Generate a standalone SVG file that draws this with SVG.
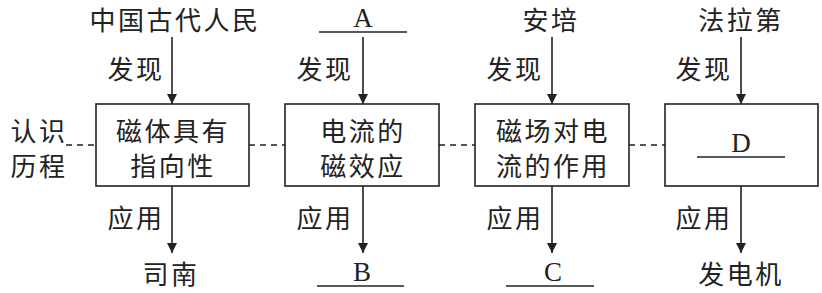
<svg xmlns="http://www.w3.org/2000/svg" width="822" height="293" viewBox="0 0 822 293">
<style>
.t{font-family:"Noto Sans CJK SC","Liberation Sans",sans-serif;font-size:26px;fill:#222;text-anchor:middle;letter-spacing:2.5px}
.l{font-family:"Liberation Serif",serif;font-size:27px;fill:#222;text-anchor:middle}
.box{fill:#fff;stroke:#222;stroke-width:1.6}
.ln{stroke:#222;stroke-width:1.6;fill:none}
.ds{stroke:#222;stroke-width:1.6;fill:none;stroke-dasharray:6,5}
</style>
<defs>
<marker id="ah" viewBox="0 0 10 14" refX="10" refY="7" markerWidth="10" markerHeight="14" markerUnits="userSpaceOnUse" orient="auto">
<path d="M0,2 L10,7 L0,12 Z" fill="#222"/>
</marker>
</defs>
<g id="connectors">
<line class="ds" x1="66" y1="145" x2="96" y2="145"/>
<line class="ds" x1="249" y1="145" x2="285" y2="145"/>
<line class="ds" x1="439" y1="145" x2="475" y2="145"/>
<line class="ds" x1="629" y1="145" x2="665" y2="145"/>
<line class="ln" x1="172" y1="37" x2="172" y2="104" marker-end="url(#ah)"/>
<line class="ln" x1="363" y1="37" x2="363" y2="104" marker-end="url(#ah)"/>
<line class="ln" x1="552" y1="37" x2="552" y2="104" marker-end="url(#ah)"/>
<line class="ln" x1="741" y1="37" x2="741" y2="104" marker-end="url(#ah)"/>
<line class="ln" x1="172" y1="186" x2="172" y2="253" marker-end="url(#ah)"/>
<line class="ln" x1="363" y1="186" x2="363" y2="253" marker-end="url(#ah)"/>
<line class="ln" x1="552" y1="186" x2="552" y2="253" marker-end="url(#ah)"/>
<line class="ln" x1="741" y1="186" x2="741" y2="253" marker-end="url(#ah)"/>
<text class="t" x="136" y="79">发现</text>
<text class="t" x="325" y="79">发现</text>
<text class="t" x="515" y="79">发现</text>
<text class="t" x="704" y="79">发现</text>
<text class="t" x="136" y="228">应用</text>
<text class="t" x="325" y="228">应用</text>
<text class="t" x="515" y="228">应用</text>
<text class="t" x="704" y="228">应用</text>
</g>
<g id="label-process">
<text class="t" x="39" y="141">认识</text>
<text class="t" x="39" y="176">历程</text>
</g>
<g id="src-1"><text class="t" x="175" y="30">中国古代人民</text></g>
<g id="src-2"><text class="l" x="363" y="27">A</text><line class="ln" x1="319" y1="32" x2="407" y2="32"/></g>
<g id="src-3"><text class="t" x="551" y="30">安培</text></g>
<g id="src-4"><text class="t" x="741" y="30">法拉第</text></g>
<g id="box-1">
<rect class="box" x="96" y="104" width="153" height="82"/>
<text class="t" x="173" y="141">磁体具有</text>
<text class="t" x="173" y="176">指向性</text>
</g>
<g id="box-2">
<rect class="box" x="285" y="104" width="154" height="82"/>
<text class="t" x="363" y="141">电流的</text>
<text class="t" x="363" y="176">磁效应</text>
</g>
<g id="box-3">
<rect class="box" x="475" y="104" width="154" height="82"/>
<text class="t" x="553" y="141">磁场对电</text>
<text class="t" x="553" y="176">流的作用</text>
</g>
<g id="box-4">
<rect class="box" x="665" y="104" width="153" height="82"/>
<text class="l" x="741" y="152">D</text>
<line class="ln" x1="697" y1="157" x2="785" y2="157"/>
</g>
<g id="out-1"><text class="t" x="171" y="284">司南</text></g>
<g id="out-2"><text class="l" x="362" y="281">B</text><line class="ln" x1="317" y1="286" x2="404" y2="286"/></g>
<g id="out-3"><text class="l" x="553" y="281">C</text><line class="ln" x1="506" y1="286" x2="594" y2="286"/></g>
<g id="out-4"><text class="t" x="741" y="284">发电机</text></g>
</svg>
